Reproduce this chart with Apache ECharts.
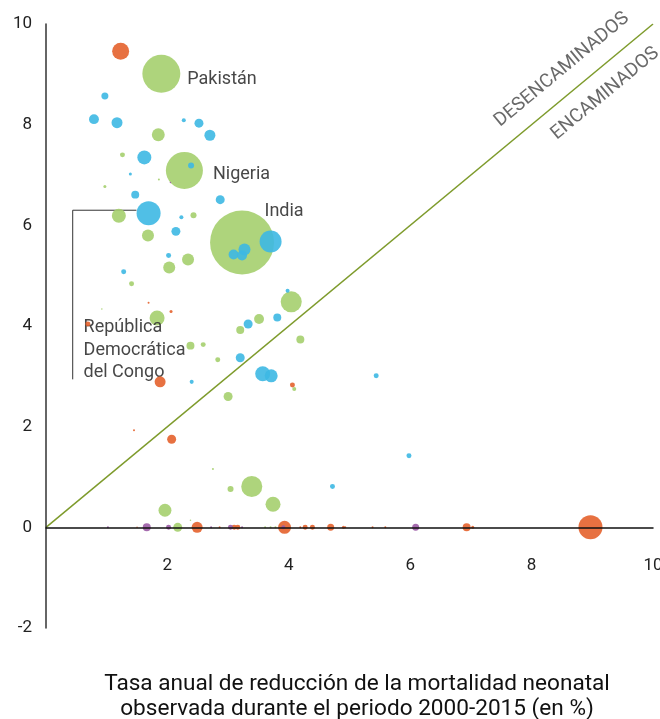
<!DOCTYPE html>
<html><head><meta charset="utf-8">
<script src="https://cdn.jsdelivr.net/npm/echarts@6/dist/echarts.min.js"></script>
<style>html,body{margin:0;padding:0;background:#fff}#c{width:660px;height:719px}</style>
</head><body><div id="c"></div>
<script>
// Tick labels
const xTickLabels = ['2', '4', '6', '8', '10'];
const yTickLabels = ['-2', '0', '2', '4', '6', '8', '10'];

// [tasa observada 2000-2015 (%), tasa requerida (%), muertes neonatales (miles), nombre]
const greenPoints = [
  [1.90, 9.01, 250, 'Pakistán'], [1.85, 7.80, 29], [1.26, 7.40, 4.3], [2.28, 7.09, 238, 'Nigeria'],
  [1.86, 6.91, 0.7], [0.97, 6.77, 1.6], [1.20, 6.19, 34], [2.43, 6.20, 6.3], [1.68, 5.80, 25],
  [3.23, 5.66, 711, 'India'], [2.34, 5.32, 25], [2.03, 5.16, 25], [1.41, 4.84, 4.3], [4.04, 4.48, 77],
  [0.92, 4.34, 0.4], [1.83, 4.16, 39], [3.51, 4.14, 17], [3.20, 3.92, 11], [4.19, 3.73, 11],
  [2.38, 3.61, 11], [2.59, 3.63, 4.3], [2.83, 3.33, 4.3], [4.09, 2.75, 2.8], [3.00, 2.60, 14],
  [2.75, 1.16, 0.7], [3.04, 0.76, 6.3], [3.39, 0.81, 77], [3.74, 0.46, 39], [1.96, 0.34, 29],
  [2.38, 0.14, 0.4], [2.17, 0, 14], [3.61, 0, 0.7], [3.70, 0, 0.7], [3.78, 0, 0.7]
];
const bluePoints = [
  [0.97, 8.57, 8.5], [0.79, 8.11, 17], [1.17, 8.04, 21], [2.27, 8.09, 2.8], [2.52, 8.03, 14],
  [2.70, 7.79, 21], [1.62, 7.35, 34], [2.39, 7.19, 6.3], [1.39, 7.02, 1.6], [1.47, 6.61, 11],
  [2.87, 6.51, 14], [1.69, 6.24, 100, 'República\nDemocrática\ndel Congo'], [2.23, 6.16, 2.8],
  [2.14, 5.88, 14], [3.70, 5.68, 84], [3.27, 5.52, 25], [3.09, 5.42, 17], [3.23, 5.40, 17],
  [2.02, 5.40, 4.3], [1.28, 5.08, 4.3], [3.98, 4.70, 2.8], [3.33, 4.04, 14], [3.81, 4.17, 11],
  [3.20, 3.37, 14], [3.57, 3.05, 39], [3.71, 3.01, 29], [2.40, 2.89, 2.8], [5.44, 3.01, 4.3],
  [5.98, 1.42, 4.3], [4.72, 0.81, 4.3]
];
const orangePoints = [
  [1.23, 9.46, 50], [1.69, 4.46, 0.7], [2.06, 4.29, 1.6], [0.69, 4.04, 4.3], [1.88, 2.89, 21],
  [4.06, 2.83, 4.3], [1.45, 1.93, 0.7], [2.07, 1.75, 14],
  [1.50, 0, 0.4], [2.49, 0, 21], [2.86, 0, 0.7], [3.10, 0, 4.3], [3.16, 0, 4.3], [3.93, 0, 29],
  [4.19, 0, 0.7], [4.27, 0, 4.3], [4.39, 0, 4.3], [4.69, 0, 8.5], [4.90, 0, 1.6], [4.93, 0, 0.7],
  [5.38, 0, 0.7], [5.59, 0, 0.7], [6.93, 0, 11], [7.03, 0, 1.6], [8.97, 0, 100]
];
const purplePoints = [
  [2.05, 6.85, 0.4],
  [1.02, 0, 0.7], [1.66, 0, 11], [2.02, 0, 4.3], [2.72, 0, 0.7], [3.04, 0, 4.3],
  [3.23, 0, 0.7], [3.91, 0, 2.8], [6.09, 0, 8.5]
];
// Línea de referencia (tasa observada = tasa requerida)
const diagonalLine = [[0, 0], [10, 10]];
// Línea guía de la etiqueta de la RDC
const drcLeader = [[1.49, 6.30], [0.44, 6.30], [0.44, 2.94]];

const FONT = 'Roboto, "Helvetica Neue", Arial, sans-serif';
const labelStyles = {
  'Pakistán': { position: 'right', distance: 7, offset: [0, 6] },
  'Nigeria': { position: 'right', distance: 10, offset: [0, 4] },
  'India': { position: 'top', distance: 0, offset: [42, 10] },
  'República\nDemocrática\ndel Congo': { position: [-53, 115], align: 'left', verticalAlign: 'top', lineHeight: 22.5 }
};
function sizeOf(v) { return Math.max(1.5, 2.4 * Math.sqrt(v)); }
function bubbleSeries(name, pts, color, z) {
  const sorted = pts.slice().sort((a, b) => b[2] - a[2]);
  return {
    type: 'scatter', name, z,
    data: sorted.map(p => {
      const item = { value: [p[0], p[1], p[2]] };
      if (p[3]) {
        item.name = p[3];
        item.label = Object.assign({ show: true, formatter: '{b}', fontSize: 18, color: '#333', fontFamily: FONT }, labelStyles[p[3]]);
      }
      return item;
    }),
    symbolSize: v => sizeOf(v[2]),
    itemStyle: { color, opacity: 0.9 },
    label: { show: false },
    emphasis: { disabled: true },
    silent: true
  };
}

const chart = echarts.init(document.getElementById('c'), null, { renderer: 'canvas' });
chart.setOption({
  animation: false,
  backgroundColor: '#fff',
  grid: { left: 46, right: 7, top: 24, bottom: 91, containLabel: false, outerBoundsMode: 'none' },
  xAxis: {
    type: 'value', min: 0, max: 10, interval: 2, z: 10,
    axisLine: { show: true, onZero: true, lineStyle: { color: '#111', width: 1.5 } },
    axisTick: { show: false }, splitLine: { show: false },
    axisLabel: { margin: -71, fontSize: 17, color: '#222', fontFamily: FONT,
      formatter: v => xTickLabels.includes(String(v)) ? String(v) : '' }
  },
  yAxis: {
    type: 'value', min: -2, max: 10, interval: 2, z: 10,
    axisLine: { show: true, onZero: false, lineStyle: { color: '#333', width: 1.5 } },
    axisTick: { show: false }, splitLine: { show: false },
    axisLabel: { margin: 14, fontSize: 17, color: '#222', fontFamily: FONT,
      formatter: v => yTickLabels.includes(String(v)) ? String(v) : '' }
  },
  series: [
    { type: 'line', data: diagonalLine, symbol: 'none', silent: true, z: 1,
      lineStyle: { color: '#7E9B2C', width: 1.5 } },
    { type: 'line', data: drcLeader, symbol: 'none', silent: true, z: 1,
      lineStyle: { color: '#333', width: 1 } },
    bubbleSeries('Verde', greenPoints, '#A5CF6E', 2),
    bubbleSeries('Azul', bluePoints, '#3DB8E3', 3),
    bubbleSeries('Naranja', orangePoints, '#E4622C', 4),
    bubbleSeries('Morado', purplePoints, '#9B5BA5', 5)
  ]
});

// Etiquetas de la diagonal y título del eje
const diagonalLabels = [
  { text: 'DESENCAMINADOS', at: 8.74, side: 1 },
  { text: 'ENCAMINADOS', at: 8.97, side: -1 }
];
const p0 = chart.convertToPixel({ gridIndex: 0 }, diagonalLine[0]);
const p1 = chart.convertToPixel({ gridIndex: 0 }, diagonalLine[1]);
const ang = Math.atan2(p0[1] - p1[1], p1[0] - p0[0]);
const nx = -Math.sin(ang), ny = -Math.cos(ang);
const graphics = diagonalLabels.map(d => {
  const p = chart.convertToPixel({ gridIndex: 0 }, [d.at, d.at]);
  return {
    type: 'text', x: p[0] + nx * 23 * d.side, y: p[1] + ny * 23 * d.side, rotation: ang, silent: true,
    style: { text: d.text, fontSize: 19, fill: '#6a6a6a', fontFamily: FONT, align: 'center', verticalAlign: 'middle' }
  };
});
graphics.push({
  type: 'text', x: 357, y: 672, silent: true,
  style: { text: 'Tasa anual de reducción de la mortalidad neonatal\nobservada durante el periodo 2000-2015 (en %)',
    fontSize: 22.6, lineHeight: 25, fill: '#111', fontFamily: FONT, align: 'center', verticalAlign: 'top' }
});
chart.setOption({ graphic: graphics });
</script>
</body></html>
